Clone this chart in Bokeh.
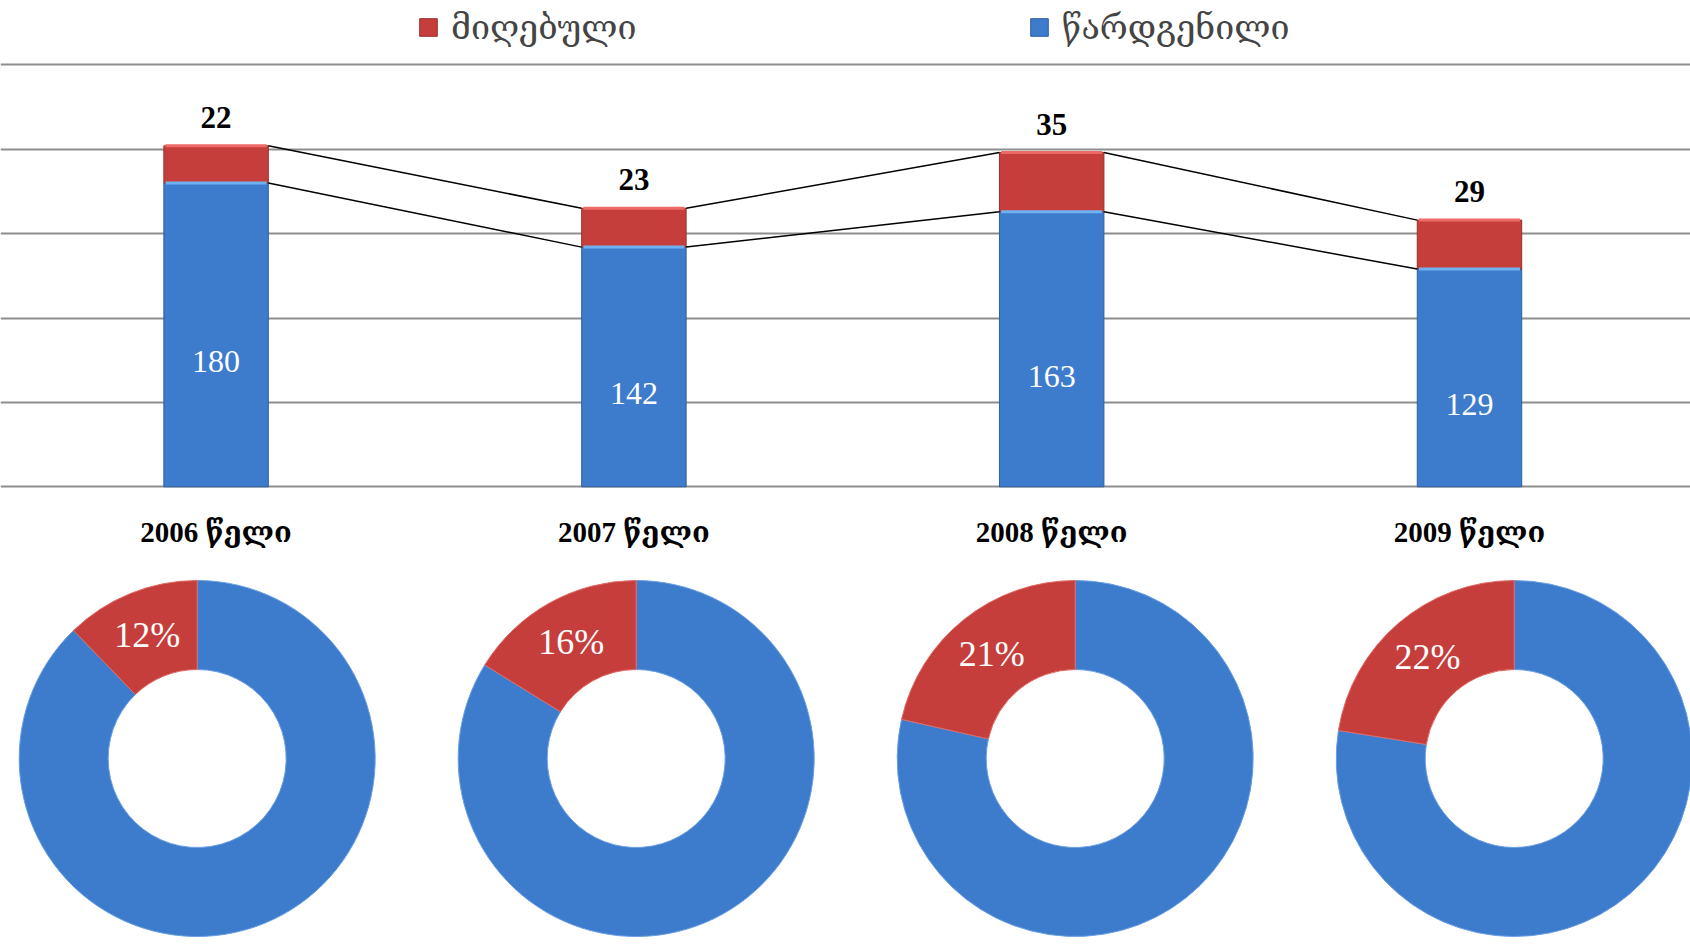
import numpy as np
from bokeh.plotting import figure
from bokeh.models import Range1d, FixedTicker, Legend, LegendItem, ColumnDataSource
from bokeh.layouts import column
from bokeh.embed import file_html
from bokeh.resources import INLINE
from bokeh.core.properties import value

# ---- data ----
year_labels = ["2006 წელი", "2007 წელი", "2008 წელი", "2009 წელი"]
submitted = [180, 142, 163, 129]     # წარდგენილი
received = [22, 23, 35, 29]          # მიღებული
legend_received = "მიღებული"
legend_submitted = "წარდგენილი"
grid_ticks = [0, 50, 100, 150, 200, 250]

# ---- styles ----
BLUE = "#3d7bcd"
RED = "#c63e3b"
GRID = "#8e8e8e"
NUM_FONT = "Liberation Serif, DejaVu Serif, serif"
GEO_FONT = "DejaVu Serif, serif"

W = 1690
H1 = 560
H2 = 392
BAR_W = 0.25

idx = np.arange(len(submitted))
sub = np.array(submitted, dtype=float)
rec = np.array(received, dtype=float)
tot = sub + rec

src = ColumnDataSource(dict(
    x=idx, sub=sub, tot=tot, rec=rec,
    sub_mid=sub / 2,
    rec_txt=[str(v) for v in received],
    sub_txt=[str(v) for v in submitted],
))

p = figure(width=W, height=H1, x_range=Range1d(-0.516, 3.529), y_range=Range1d(-1, 288.1),
           output_backend="svg", toolbar_location=None,
           min_border=0, min_border_bottom=72)
p.outline_line_color = None
p.background_fill_color = "white"
p.yaxis.visible = False
p.xgrid.visible = False
p.ygrid.ticker = FixedTicker(ticks=grid_ticks)
p.ygrid.grid_line_color = GRID
p.ygrid.grid_line_width = 2

blue_r = p.vbar(x="x", bottom=0, top="sub", width=BAR_W, source=src,
                fill_color=BLUE, line_color="#2f5f9e", line_width=1)
red_r = p.vbar(x="x", bottom="sub", top="tot", width=BAR_W, source=src,
               fill_color=RED, line_color="#9a2f2c", line_width=1)

# light bevel at the top edge of each segment
p.segment(x0=idx - BAR_W / 2 + 0.004, x1=idx + BAR_W / 2 - 0.004, y0=sub, y1=sub,
          line_color="#6fb2f2", line_width=3)
p.segment(x0=idx - BAR_W / 2 + 0.004, x1=idx + BAR_W / 2 - 0.004, y0=tot, y1=tot,
          line_color="#ee6a66", line_width=3)

# connector lines between bars
for arr in (tot, sub):
    p.segment(x0=idx[:-1] + BAR_W / 2, x1=idx[1:] - BAR_W / 2,
              y0=arr[:-1], y1=arr[1:], line_color="black", line_width=1.5)

p.text(x="x", y="tot", text="rec_txt", source=src, text_align="center",
       text_baseline="bottom", y_offset=-18, text_font=value(NUM_FONT),
       text_font_style="bold", text_font_size="31px", text_color="black")
p.text(x="x", y="sub_mid", text="sub_txt", source=src, text_align="center",
       text_baseline="middle", y_offset=27, text_font=value(NUM_FONT),
       text_font_size="32px", text_color="white")

p.xaxis.ticker = FixedTicker(ticks=list(idx))
p.xaxis.major_label_overrides = {int(i): lab for i, lab in zip(idx, year_labels)}
p.xaxis.axis_line_color = None
p.xaxis.major_tick_line_color = None
p.xaxis.minor_tick_line_color = None
p.xaxis.major_label_standoff = 21
p.xaxis.major_label_text_font = NUM_FONT
p.xaxis.major_label_text_font_style = "bold"
p.xaxis.major_label_text_font_size = "29px"
p.xaxis.major_label_text_color = "black"

legend = Legend(items=[LegendItem(label=legend_received, renderers=[red_r]),
                       LegendItem(label=legend_submitted, renderers=[blue_r])],
                orientation="horizontal", location=(417, 441), spacing=391,
                padding=0, margin=0, border_line_color=None,
                background_fill_alpha=0, glyph_width=22, glyph_height=22,
                label_text_font=GEO_FONT, label_text_font_size="34px",
                label_standoff=12, label_height=34)
p.add_layout(legend)

# ---- donuts ----
frac = rec / sub
pct_txt = [f"{int(round(f * 100))}%" for f in frac]
start = np.pi / 2
red_end = start + 2 * np.pi * frac
mid = start + np.pi * frac
R_OUT, R_IN = 178, 89
r_lab = (R_OUT + R_IN) / 2

dsrc = ColumnDataSource(dict(
    x=idx, y=np.zeros(len(idx)),
    s=np.full(len(idx), start), re=red_end, be=np.full(len(idx), start + 2 * np.pi),
    xo=r_lab * np.cos(mid), yo=-r_lab * np.sin(mid), t=pct_txt,
))

d = figure(width=W, height=H2, x_range=Range1d(-0.448, 3.4016), y_range=Range1d(-194, 198),
           output_backend="svg", toolbar_location=None, min_border=0)
d.outline_line_color = None
d.axis.visible = False
d.grid.visible = False

d.annular_wedge(x="x", y="y", inner_radius=R_IN, outer_radius=R_OUT,
                inner_radius_units="screen", outer_radius_units="screen",
                start_angle="re", end_angle="be", source=dsrc,
                fill_color=BLUE, line_color="#6a9fe0", line_width=1)
d.annular_wedge(x="x", y="y", inner_radius=R_IN, outer_radius=R_OUT,
                inner_radius_units="screen", outer_radius_units="screen",
                start_angle="s", end_angle="re", source=dsrc,
                fill_color=RED, line_color="#e06a66", line_width=1)
d.text(x="x", y="y", x_offset="xo", y_offset="yo", text="t", source=dsrc,
       text_align="center", text_baseline="middle", text_font=value(NUM_FONT),
       text_font_size="36px", text_color="white")

layout = column(p, d, spacing=0)
open("out.html", "w").write(file_html(layout, INLINE))
